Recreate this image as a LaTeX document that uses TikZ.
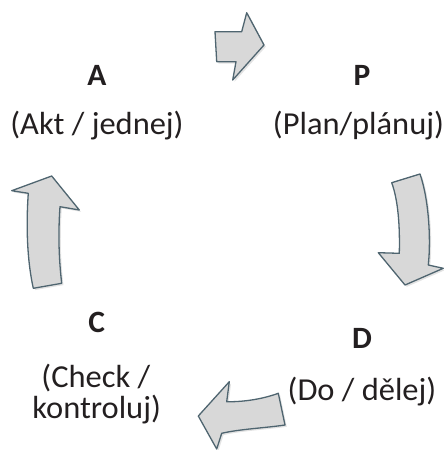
\documentclass[tikz,border=0pt]{standalone}
\usepackage{fontspec}
\setmainfont{Carlito}[FakeStretch=1.015]
\usetikzlibrary{shadows}
\definecolor{arrowfill}{HTML}{D8D8D8}
\definecolor{arrowedge}{HTML}{4F6570}
\definecolor{txt}{HTML}{231F20}
\tikzset{
  cyclearrow/.style={fill=arrowfill, draw=arrowedge, line width=1.3pt, line join=round,
    drop shadow={opacity=0.22, shadow xshift=1.8pt, shadow yshift=-1.8pt}},
  letter/.style={anchor=base, inner sep=0pt, text=txt, font=\fontsize{31}{34}\selectfont\bfseries},
  label/.style={anchor=base, inner sep=0pt, text=txt, font=\fontsize{32}{34}\selectfont}
}
\begin{document}
\begin{tikzpicture}[x=1pt,y=-1pt]
\useasboundingbox (0,0) rectangle (444,450);
% top arrow (right)
\draw[cyclearrow] (215,31.7) -- (241.7,31.7) -- (246.7,12.7) -- (264,45) -- (232.7,80) -- (236,61.7) -- (216.7,61.7) -- cycle;
% right arrow (down)
\draw[cyclearrow] (391.7,182.7) -- (420,174) .. controls (429,200) and (431,240) .. (428.3,265) -- (443.3,268.3) -- (405,285) -- (378.3,252.7) -- (399.3,253.3) .. controls (400,225) and (398,200) .. (391.7,182.7) -- cycle;
% bottom arrow (left)
\draw[cyclearrow] (226.7,401.7) -- (229.3,381.7) -- (198.3,416) -- (216.7,449) -- (221.7,433.3) .. controls (240,429) and (265,428) .. (285,425) -- (278.3,393.3) .. controls (260,400) and (240,402) .. (226.7,401.7) -- cycle;
% left arrow (up)
\draw[cyclearrow] (51.7,176) -- (79.3,210) -- (60,206.7) .. controls (58,235) and (59,260) .. (61.7,283.3) -- (33.3,288.3) .. controls (27,260) and (26,225) .. (28.3,193.3) -- (11.7,190.7) -- cycle;
% texts
\node[letter] (a) at (97,85) {A};
\node[label] (al) at (97,134) {(Akt / jednej)};
\node[letter] (p) at (362,85) {P};
\node[label] (pl) at (358.5,134) {(Plan/plánuj)};
\node[letter] (c) at (96.7,332) {C};
\node[label] (cl1) at (95.8,387) {(Check /};
\node[label] (cl2) at (96.7,418) {kontroluj)};
\node[letter] (d) at (362,348.5) {D};
\node[label] (dl) at (362,400) {(Do / dělej)};
\end{tikzpicture}
\end{document}
